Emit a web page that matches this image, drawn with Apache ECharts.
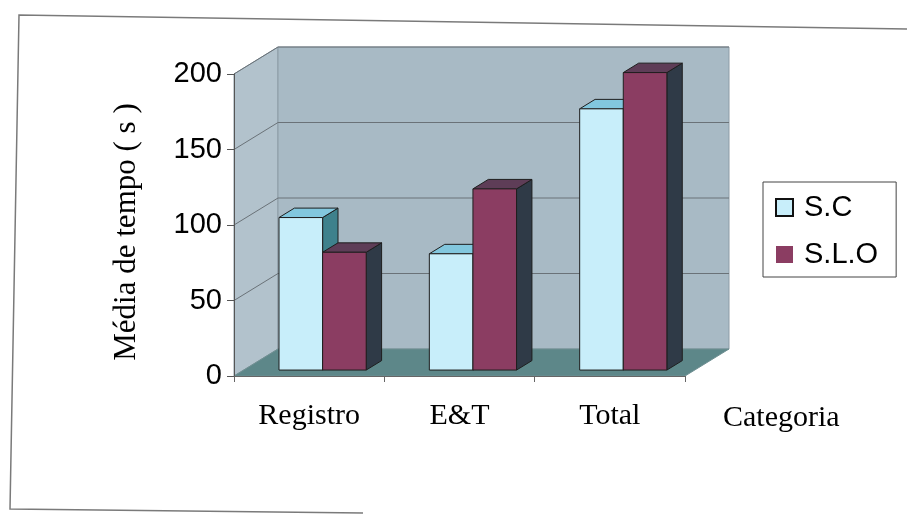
<!DOCTYPE html>
<html>
<head>
<meta charset="utf-8">
<script src="https://cdn.jsdelivr.net/npm/echarts@6/dist/echarts.min.js"></script>
<style>
  html, body { margin: 0; padding: 0; background: #ffffff; }
  #chart { width: 907px; height: 514px; }
</style>
</head>
<body>
<div id="chart"></div>
<script>
// Chart data
const categories = ['Registro', 'E&T', 'Total'];
const scValues = [101, 77, 173];
const sloValues = [78, 120, 197];
const yTicks = [0, 50, 100, 150, 200];

// 3D box depth in pixels (front plane -> back wall)
const DEPTH_X = 44, DEPTH_Y = -27;
// Bars sit between these depth fractions
const BAR_FRONT = 0.22, BAR_BACK = 0.57;
// Bar width and pair shift as fractions of a category band
const BAR_W = 0.29, PAIR_SHIFT = 0.025;

const palette = {
  sc:  { front: '#c8eefa', top: '#82c7de', side: '#3e818c' },
  slo: { front: '#8b3d62', top: '#5e3d57', side: '#2f3a47' }
};

function barRenderer(slot, c) {
  return function (params, api) {
    const idx = api.value(0), val = api.value(1);
    const base = api.coord([idx, 0]);
    const top = api.coord([idx, val]);
    const band = api.size([1, 0])[0];
    const w = band * BAR_W;
    const cx = base[0] + band * PAIR_SHIFT;
    const fx = DEPTH_X * BAR_FRONT, fy = DEPTH_Y * BAR_FRONT;
    const bx = DEPTH_X * (BAR_BACK - BAR_FRONT), by = DEPTH_Y * (BAR_BACK - BAR_FRONT);
    const x0 = cx + (slot === 0 ? -w : 0) + fx, x1 = x0 + w;
    const y0 = base[1] + fy, y1 = top[1] + fy;
    const edge = { stroke: '#1e1e1e', lineWidth: 1, lineJoin: 'round' };
    return {
      type: 'group',
      children: [
        { type: 'polygon', shape: { points: [[x1, y0], [x1, y1], [x1 + bx, y1 + by], [x1 + bx, y0 + by]] },
          style: Object.assign({ fill: c.side }, edge) },
        { type: 'polygon', shape: { points: [[x0, y1], [x1, y1], [x1 + bx, y1 + by], [x0 + bx, y1 + by]] },
          style: Object.assign({ fill: c.top }, edge) },
        { type: 'rect', shape: { x: x0, y: y1, width: w, height: y0 - y1 },
          style: Object.assign({ fill: c.front }, edge) }
      ]
    };
  };
}

// Walls, floor and the gridlines on them
function wallRenderer(params, api) {
  const cs = params.coordSys;
  const L = cs.x, R = cs.x + cs.width;
  const B = api.coord([0, yTicks[0]])[1];
  const T = api.coord([0, yTicks[yTicks.length - 1]])[1];
  const dx = DEPTH_X, dy = DEPTH_Y;
  const children = [
    { type: 'polygon', shape: { points: [[L, B], [L, T], [L + dx, T + dy], [L + dx, B + dy]] },
      style: { fill: '#b2c2cc', stroke: '#8a9aa4', lineWidth: 1 } },
    { type: 'polygon', shape: { points: [[L + dx, T + dy], [R + dx, T + dy], [R + dx, B + dy], [L + dx, B + dy]] },
      style: { fill: '#a8bac5', stroke: '#8d9ca6', lineWidth: 1 } },
    { type: 'polygon', shape: { points: [[L, B], [R, B], [R + dx, B + dy], [L + dx, B + dy]] },
      style: { fill: '#5d8789', stroke: '#6f8f92', lineWidth: 1 } }
  ];
  yTicks.slice(1).forEach(function (v) {
    const y = api.coord([0, v])[1];
    children.push({ type: 'line', shape: { x1: L + dx, y1: y + dy, x2: R + dx, y2: y + dy },
      style: { stroke: '#6a7278', lineWidth: 1 } });
    children.push({ type: 'line', shape: { x1: L, y1: y, x2: L + dx, y2: y + dy },
      style: { stroke: '#6a7278', lineWidth: 1 } });
  });
  return { type: 'group', children: children };
}

const chart = echarts.init(document.getElementById('chart'), null, { renderer: 'canvas' });
chart.setOption({
  animation: false,
  backgroundColor: '#ffffff',
  grid: { left: 234, right: 222, top: 74, bottom: 138 },
  graphic: [{
    type: 'polyline',
    shape: { points: [[907, 29], [19, 15], [10, 509], [363, 513]] },
    style: { stroke: '#7a7a7a', lineWidth: 1.5, fill: null },
    silent: true
  }],
  legend: {
    orient: 'vertical',
    left: 763, top: 182,
    padding: [11, 18, 8, 12],
    itemGap: 18,
    itemWidth: 17, itemHeight: 17,
    borderColor: '#444', borderWidth: 1,
    textStyle: { fontFamily: 'Liberation Sans', fontSize: 29, color: '#000', padding: [0, 0, 0, 6] },
    data: [
      { name: 'S.C', icon: 'rect', itemStyle: { color: palette.sc.front, borderColor: '#111', borderWidth: 2 } },
      { name: 'S.L.O', icon: 'rect', itemStyle: { color: palette.slo.front, borderColor: palette.slo.front, borderWidth: 0 } }
    ]
  },
  xAxis: {
    type: 'category',
    data: categories,
    z: 5,
    axisLine: { show: true, lineStyle: { color: '#666' } },
    axisTick: { show: true, length: 6, lineStyle: { color: '#666' } },
    axisLabel: { fontFamily: 'Liberation Serif', fontSize: 30, color: '#000', margin: 25 },
    splitLine: { show: false },
    name: 'Categoria',
    nameLocation: 'end',
    nameGap: 38,
    nameTextStyle: { fontFamily: 'Liberation Serif', fontSize: 30, color: '#000', verticalAlign: 'top', padding: [27, 0, 0, 0] }
  },
  yAxis: {
    type: 'value',
    min: 0, max: 200, interval: 50,
    z: 5,
    axisLine: { show: true, lineStyle: { color: '#555' } },
    axisTick: { show: true, length: 7, lineStyle: { color: '#555' } },
    axisLabel: { fontFamily: 'Liberation Sans', fontSize: 29, color: '#000', margin: 12 },
    splitLine: { show: false },
    name: 'Média de tempo ( s )',
    nameLocation: 'middle',
    nameRotate: 90,
    nameGap: 92,
    nameTextStyle: { fontFamily: 'Liberation Serif', fontSize: 31, color: '#000', padding: [0, 14, 0, 0] }
  },
  series: [
    { type: 'custom', name: 'walls', silent: true, z: 1, renderItem: wallRenderer,
      data: [[0, 0]], encode: { x: 0, y: 1 }, clip: false },
    { type: 'custom', name: 'S.C', z: 2, renderItem: barRenderer(0, palette.sc),
      itemStyle: { color: palette.sc.front },
      data: scValues.map(function (v, i) { return [i, v]; }), encode: { x: 0, y: 1 } },
    { type: 'custom', name: 'S.L.O', z: 2, renderItem: barRenderer(1, palette.slo),
      itemStyle: { color: palette.slo.front },
      data: sloValues.map(function (v, i) { return [i, v]; }), encode: { x: 0, y: 1 } }
  ]
});
</script>
</body>
</html>
